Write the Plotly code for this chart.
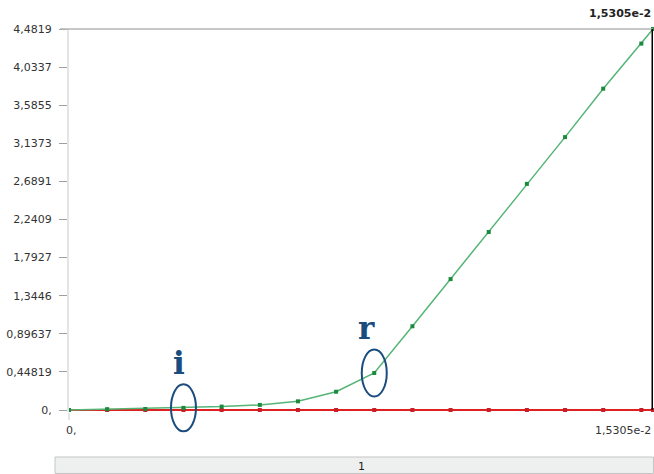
import plotly.graph_objects as go

# Time samples (s) and the two monitored quantities
times = [0.000, 0.001, 0.002, 0.003, 0.004, 0.005, 0.006, 0.007, 0.008,
         0.009, 0.010, 0.011, 0.012, 0.013, 0.014, 0.015, 0.015305]
green_vals = [0.0, 0.010, 0.012, 0.025, 0.040, 0.060, 0.102, 0.215, 0.435,
              0.985, 1.54, 2.094, 2.66, 3.21, 3.78, 4.31, 4.4819]
red_vals = [0.0] * len(times)

y_tickvals = [0.0, 0.44819, 0.89637, 1.3446, 1.7927, 2.2409,
              2.6891, 3.1373, 3.5855, 4.0337, 4.4819]
y_ticktext = ["0,", "0,44819", "0,89637", "1,3446", "1,7927", "2,2409",
              "2,6891", "3,1373", "3,5855", "4,0337", "4,4819"]
x_tickvals = [0.0, 0.015305]
x_ticktext = ["0,", "1,5305e-2"]
cursor_label = "1,5305e-2"
page_label = "1"

# Highlighted points: (index into series, letter, letter x-offset in px)
marks = [(3, "i", -4), (8, "r", -8)]

XMAX = x_tickvals[-1]
YMAX = y_tickvals[-1]
W, H = 654, 474
L, R, T = 69, 1, 29
Y0_PX = 410          # pixel row of y = 0
B = H - Y0_PX - 2    # leave two pixels below zero so the zero line is not clipped
PW = W - L - R
PH = H - T - B
Y_PER_PX = YMAX / (Y0_PX - T)
YMIN = -(H - B - Y0_PX) * Y_PER_PX

FONT = "DejaVu Sans"
TXT = "#333333"
NAVY = "#1b4c7e"

def px_x(px):
    return (px - L) / PW

def px_y(py):
    return (H - B - py) / PH

def data_to_paper(x, y):
    return x / XMAX, (y - YMIN) / (YMAX - YMIN)

fig = go.Figure()

fig.add_trace(go.Scatter(
    x=times, y=red_vals, mode="lines+markers",
    line=dict(color="#e0201e", width=2),
    marker=dict(symbol="square", size=4, color="#c81e28"),
    cliponaxis=False, hoverinfo="skip"))
fig.add_trace(go.Scatter(
    x=times, y=green_vals, mode="lines+markers",
    line=dict(color="#55b476", width=1.5),
    marker=dict(symbol="square", size=4, color="#1a8a3c"),
    cliponaxis=False, hoverinfo="skip"))

shapes = [
    # top border of plot area
    dict(type="line", xref="paper", yref="paper", x0=px_x(60), x1=1, y0=1, y1=1,
         line=dict(color="#b4b4b4", width=1.5)),
    # cursor line at the last time
    dict(type="line", xref="x", yref="paper", x0=XMAX, x1=XMAX,
         y0=px_y(Y0_PX), y1=1, line=dict(color="#000000", width=3)),
    # page bar at the bottom
    dict(type="rect", xref="paper", yref="paper",
         x0=px_x(55), x1=px_x(653.5), y0=px_y(473.5), y1=px_y(457),
         fillcolor="#eef0ef", line=dict(color="#c4c4c4", width=1)),
]

annotations = []
for idx, letter, dx in marks:
    cx, cy = data_to_paper(times[idx], green_vals[idx])
    rx, ry = 12.5 / PW, 23.5 / PH
    shapes.append(dict(type="circle", xref="paper", yref="paper",
                       x0=cx - rx, x1=cx + rx, y0=cy - ry, y1=cy + ry,
                       line=dict(color=NAVY, width=2)))
    annotations.append(dict(xref="paper", yref="paper", x=cx + dx / PW,
                            y=cy + 45 / PH, text="<b>%s</b>" % letter,
                            showarrow=False, xanchor="center", yanchor="middle",
                            font=dict(family="DejaVu Serif", size=31, color=NAVY)))

# x tick labels
annotations.append(dict(xref="paper", yref="paper", x=x_tickvals[0] / XMAX - 5 / PW,
                        y=px_y(430), text=x_ticktext[0], showarrow=False,
                        xanchor="left", yanchor="middle",
                        font=dict(family=FONT, size=11, color=TXT)))
annotations.append(dict(xref="paper", yref="paper", x=1, y=px_y(430),
                        text=x_ticktext[1], showarrow=False,
                        xanchor="right", yanchor="middle",
                        font=dict(family=FONT, size=11, color=TXT)))
# cursor label
annotations.append(dict(xref="paper", yref="paper", x=1, y=px_y(13),
                        text="<b>%s</b>" % cursor_label, showarrow=False,
                        xanchor="right", yanchor="middle",
                        font=dict(family=FONT, size=11, color="#222222")))
# page bar label
annotations.append(dict(xref="paper", yref="paper", x=px_x(361), y=px_y(466),
                        text=page_label, showarrow=False,
                        xanchor="center", yanchor="middle",
                        font=dict(family=FONT, size=11, color="#222222")))

fig.update_layout(
    width=W, height=H,
    margin=dict(l=L, r=R, t=T, b=B, pad=0),
    paper_bgcolor="white", plot_bgcolor="white",
    showlegend=False,
    shapes=shapes, annotations=annotations,
    xaxis=dict(range=[0, XMAX], showgrid=False, zeroline=False,
               tickvals=x_tickvals[:1], showticklabels=False,
               ticks="outside", ticklen=7, tickwidth=2, tickcolor="#e4e4e4",
               showline=False, fixedrange=True),
    yaxis=dict(range=[YMIN, YMAX], showgrid=False, zeroline=False,
               tickvals=y_tickvals, ticktext=y_ticktext, ticks="outside",
               ticklen=8, tickcolor="#a0a0a0", ticklabelstandoff=5,
               showline=True, linecolor="#e4e4e4", linewidth=2,
               tickfont=dict(family=FONT, size=11, color=TXT), fixedrange=True),
)

fig.write_html("out.html", config={"displayModeBar": False})
